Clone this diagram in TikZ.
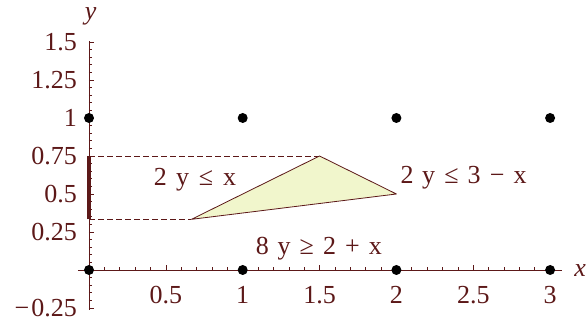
\documentclass[tikz,border=0pt]{standalone}
\usepackage{fontspec}
\setmainfont{Liberation Serif}
\definecolor{mar}{RGB}{92,24,24}
\definecolor{tri}{RGB}{241,246,204}
\begin{document}
\begin{tikzpicture}[x=153.7pt,y=152pt,
  every node/.style={font=\fontsize{26}{30}\selectfont, text=mar, inner sep=0pt},
  axisline/.style={draw=mar, line width=0.9pt},
  tickline/.style={draw=mar, line width=0.6pt},
  guide/.style={draw=mar, line width=0.8pt, dash pattern=on 6pt off 3pt},
  dot/.style={circle, fill=black, minimum size=10pt, inner sep=0pt},
  lbl/.style={anchor=base}]
\useasboundingbox (-89pt,-53pt) rectangle (499pt,270pt);
% axes
\coordinate (xa) at (-0.072,0);
\coordinate (xb) at (3.08,0);
\coordinate (ya) at (0,-0.26);
\coordinate (yb) at (0,1.505);
\draw[axisline] (xa) -- (xb);
\draw[axisline] (ya) -- (yb);
% x ticks
\foreach \i in {1,...,30} {
  \pgfmathsetmacro{\v}{\i/10}
  \pgfmathtruncatemacro{\m}{mod(\i,5)}
  \ifnum\m=0
    \draw[tickline] (\v,0) -- ++(0,5pt);
  \else
    \draw[tickline] (\v,0) -- ++(0,2.5pt);
  \fi
}
% y ticks
\foreach \i in {-5,...,30} {
  \pgfmathsetmacro{\v}{\i/20}
  \pgfmathtruncatemacro{\m}{mod(abs(\i),5)}
  \ifnum\i=0\else
  \ifnum\m=0
    \draw[tickline] (0,\v) -- ++(5pt,0);
  \else
    \draw[tickline] (0,\v) -- ++(2.5pt,0);
  \fi\fi
}
% tick labels
\foreach \v/\t/\s in {1.5/1.5/1.5, 1.25/1.25/1.25, 1/1/1, 0.75/0.75/0.75, 0.5/0.5/0.5, 0.25/0.25/0.25, -0.25/m0.25/−\hspace{0.08em}0.25}
  \node[anchor=east] (yl\t) at ([xshift=-12pt]0,\v) {\s};
\foreach \v/\t in {0.5/0.5, 1/1, 1.5/1.5, 2/2, 2.5/2.5, 3/3}
  \node (xl\t) at ([yshift=-25pt]\v,0) {\t};
\node[font=\fontsize{26}{30}\selectfont\itshape] (ylab) at (0.01,1.668) {y};
\node[font=\fontsize{26}{30}\selectfont\itshape] (xlab) at (3.195,-0.005) {x};
% guides
\coordinate (A) at (2/3,1/3);
\coordinate (B) at (1.5,0.75);
\coordinate (C) at (2,0.5);
\coordinate (yA) at (0,1/3);
\coordinate (yB) at (0,0.75);
\draw[guide] (yB) -- (B);
\draw[guide] (yA) -- (A);
\draw[draw=mar, line width=3.5pt] (yA) -- (yB);
% triangle
\filldraw[fill=tri, draw=mar, line width=0.8pt, line join=round] (A) -- (B) -- (C) -- cycle;
% labels
\node[lbl] (l1) at (0.690,0.559) {2\hspace{0.35em}y\hspace{0.38em}≤\hspace{0.38em}x};
\node[lbl] (l2) at (2.437,0.572) {2\hspace{0.33em}y\hspace{0.35em}≤\hspace{0.35em}3\hspace{0.35em}−\hspace{0.35em}x};
\node[lbl] (l3) at (1.496,0.099) {8\hspace{0.33em}y\hspace{0.35em}≥\hspace{0.35em}2\hspace{0.35em}+\hspace{0.35em}x};
% dots
\foreach \xx in {0,1,2,3} {
  \node[dot] (d\xx a) at (\xx,0) {};
  \node[dot] (d\xx b) at (\xx,1) {};
}
\end{tikzpicture}
\end{document}
